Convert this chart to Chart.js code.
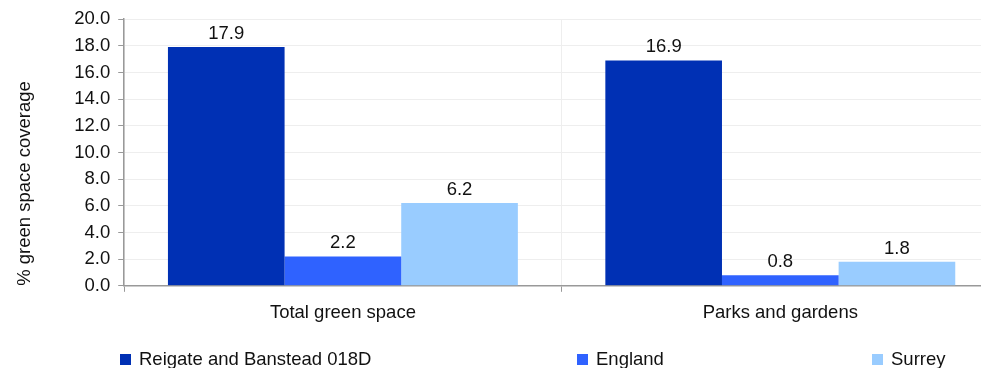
<!DOCTYPE html>
<html lang="en">
<head>
  <meta charset="UTF-8">
  <title>Green space coverage</title>
  <style>
    body { margin: 0; background: #fff; overflow: hidden; }
    .wrap { width: 1010px; height: 368px; }
  </style>
  <script src="https://cdn.jsdelivr.net/npm/chart.js"></script>
</head>
<body>
  <div class="wrap"><canvas id="chart" width="1010" height="368"></canvas></div>

  <script>
    // data
    const categories = ['Total green space', 'Parks and gardens'];
    const seriesNames = ['Reigate and Banstead 018D', 'England', 'Surrey'];
    const reigate = [17.9, 16.9];
    const england = [2.2, 0.8];
    const surrey = [6.2, 1.8];
    const colours = ['#0030B4', '#2F62FF', '#99CCFF'];

    const font = "'Liberation Sans', Arial, sans-serif";
    const fsize = 18.5;

    // value labels above each bar
    const barLabels = {
      id: 'barLabels',
      afterDatasetsDraw(chart) {
        const ctx = chart.ctx;
        ctx.save();
        ctx.font = fsize + 'px ' + font;
        ctx.fillStyle = '#111';
        ctx.textAlign = 'center';
        ctx.textBaseline = 'bottom';
        chart.data.datasets.forEach((ds, i) => {
          chart.getDatasetMeta(i).data.forEach((bar, j) => {
            ctx.fillText(ds.data[j].toFixed(1), bar.x, bar.y - 4);
          });
        });
        ctx.restore();
      }
    };

    // legend along the bottom, spread like the original
    const bottomLegend = {
      id: 'bottomLegend',
      afterDraw(chart) {
        const ctx = chart.ctx;
        const slots = [120, 577, 872];
        const y = chart.height - 8;
        ctx.save();
        ctx.font = fsize + 'px ' + font;
        ctx.textBaseline = 'middle';
        chart.data.datasets.forEach((ds, i) => {
          ctx.fillStyle = ds.backgroundColor;
          ctx.fillRect(slots[i], y - 6, 11, 11);
          ctx.fillStyle = '#111';
          ctx.fillText(ds.label, slots[i] + 19, y);
        });
        ctx.restore();
      }
    };

    new Chart(document.getElementById('chart'), {
      type: 'bar',
      data: {
        labels: categories,
        datasets: [
          { label: seriesNames[0], data: reigate, backgroundColor: colours[0] },
          { label: seriesNames[1], data: england, backgroundColor: colours[1] },
          { label: seriesNames[2], data: surrey, backgroundColor: colours[2] }
        ]
      },
      options: {
        responsive: false,
        animation: false,
        categoryPercentage: 0.8,
        barPercentage: 1.0,
        layout: { padding: { top: 13, right: 11, bottom: 34, left: 14 } },
        plugins: {
          legend: { display: false },
          tooltip: { enabled: false }
        },
        scales: {
          x: {
            grid: { offset: true, color: '#eeeeee', tickColor: '#999999', tickLength: 6 },
            border: { color: '#999999', width: 1.5 },
            ticks: { color: '#111', font: { family: font, size: fsize }, padding: 10 }
          },
          y: {
            min: 0,
            max: 20,
            ticks: {
              stepSize: 2,
              color: '#111',
              font: { family: font, size: fsize },
              padding: 8,
              callback: v => v.toFixed(1)
            },
            grid: { color: '#eeeeee', tickColor: '#999999', tickLength: 6 },
            border: { color: '#999999', width: 1.5 },
            title: {
              display: true,
              align: 'start',
              text: '% green space coverage',
              color: '#111',
              font: { family: font, size: fsize },
              padding: { top: 0, bottom: 30 }
            }
          }
        }
      },
      plugins: [barLabels, bottomLegend]
    });
  </script>
</body>
</html>
